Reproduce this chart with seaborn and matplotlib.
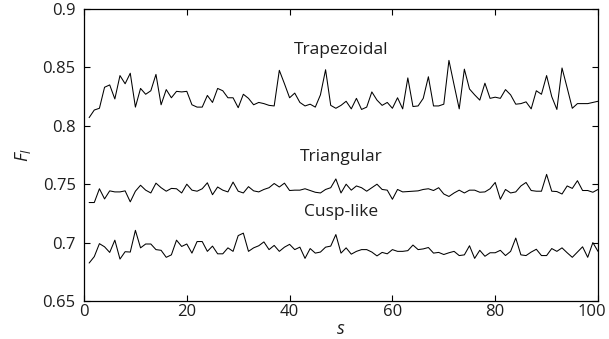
import numpy as np
import pandas as pd
import seaborn as sns
import matplotlib
matplotlib.use("Agg")
import matplotlib.pyplot as plt
from matplotlib.ticker import FuncFormatter
from matplotlib.transforms import ScaledTranslation

s = np.arange(1, 101)

trapezoidal = [
    0.807, 0.8135, 0.815, 0.833, 0.835, 0.823, 0.843, 0.836, 0.845, 0.816,
    0.832, 0.827, 0.830, 0.844, 0.818, 0.831, 0.824, 0.8295, 0.829, 0.8295,
    0.818, 0.816, 0.816, 0.826, 0.820, 0.832, 0.830, 0.824, 0.824, 0.8155,
    0.827, 0.8235, 0.818, 0.820, 0.819, 0.8175, 0.817, 0.8475, 0.836, 0.824,
    0.828, 0.820, 0.817, 0.8185, 0.816, 0.8265, 0.848, 0.8175, 0.815, 0.8175,
    0.821, 0.8145, 0.8235, 0.814, 0.816, 0.829, 0.822, 0.8175, 0.820, 0.815,
    0.824, 0.8145, 0.841, 0.8165, 0.817, 0.8235, 0.842, 0.817, 0.817, 0.8185,
    0.856, 0.835, 0.8145, 0.8485, 0.8315, 0.8265, 0.822, 0.8365, 0.8235, 0.8245,
    0.8235, 0.831, 0.8265, 0.8185, 0.819, 0.8205, 0.8145, 0.830, 0.827, 0.843,
    0.825, 0.814, 0.8495, 0.8325, 0.815, 0.819, 0.819, 0.819, 0.820, 0.821,
]

triangular = [
    0.7343, 0.7343, 0.7461, 0.7374, 0.7443, 0.7434, 0.7434, 0.7443, 0.7349, 0.7440,
    0.7491, 0.7449, 0.7425, 0.7509, 0.7470, 0.7440, 0.7464, 0.7461, 0.7425, 0.7500,
    0.7449, 0.7440, 0.7461, 0.7512, 0.7410, 0.7476, 0.7449, 0.7434, 0.7518, 0.7440,
    0.7425, 0.7479, 0.7443, 0.7434, 0.7455, 0.7470, 0.7506, 0.7476, 0.7509, 0.7446,
    0.7449, 0.7449, 0.7461, 0.7446, 0.7431, 0.7425, 0.7455, 0.7470, 0.7545, 0.7425,
    0.7500, 0.7449, 0.7485, 0.7470, 0.7440, 0.7470, 0.7500, 0.7455, 0.7449, 0.7371,
    0.7455, 0.7434, 0.7437, 0.7440, 0.7443, 0.7455, 0.7461, 0.7446, 0.7470, 0.7416,
    0.7395, 0.7425, 0.7449, 0.7425, 0.7449, 0.7449, 0.7431, 0.7434, 0.7461, 0.7515,
    0.7371, 0.7455, 0.7425, 0.7434, 0.7485, 0.7515, 0.7446, 0.7440, 0.7440, 0.7584,
    0.7440, 0.7437, 0.7416, 0.7485, 0.7464, 0.7530, 0.7446, 0.7446, 0.7431, 0.7455,
]

cusp_like = [
    0.6825, 0.6880, 0.6991, 0.6964, 0.6916, 0.7021, 0.6859, 0.6922, 0.6919, 0.7105,
    0.6955, 0.6988, 0.6988, 0.6940, 0.6934, 0.6874, 0.6895, 0.7021, 0.6967, 0.6988,
    0.6910, 0.7009, 0.7009, 0.6925, 0.6970, 0.6904, 0.6904, 0.6955, 0.6925, 0.7060,
    0.7081, 0.6925, 0.6955, 0.6973, 0.7006, 0.6940, 0.6976, 0.6925, 0.6961, 0.6985,
    0.6940, 0.6961, 0.6865, 0.6949, 0.6910, 0.6919, 0.6961, 0.6970, 0.7069, 0.6910,
    0.6955, 0.6901, 0.6925, 0.6940, 0.6940, 0.6919, 0.6886, 0.6916, 0.6904, 0.6940,
    0.6925, 0.6925, 0.6931, 0.6979, 0.6940, 0.6946, 0.6958, 0.6910, 0.6916, 0.6898,
    0.6913, 0.6925, 0.6889, 0.6895, 0.6973, 0.6865, 0.6934, 0.6883, 0.6913, 0.6913,
    0.6934, 0.6889, 0.6925, 0.7039, 0.6895, 0.6889, 0.6919, 0.6943, 0.6889, 0.6889,
    0.6949, 0.6925, 0.6955, 0.6913, 0.6874, 0.6919, 0.6964, 0.6874, 0.7000, 0.6925,
]

series_names = ["Trapezoidal", "Triangular", "Cusp-like"]
label_pos = [(50, 0.8653), (50, 0.7733), (50, 0.7262)]

x_ticks = [0, 20, 40, 60, 80, 100]
y_ticks = [0.65, 0.7, 0.75, 0.8, 0.85, 0.9]

sns.set_theme(style="white")
plt.rcParams["font.family"] = ["Open Sans", "DejaVu Sans"]
plt.rcParams["mathtext.fontset"] = "custom"
plt.rcParams["mathtext.it"] = "Open Sans:italic"
plt.rcParams["mathtext.rm"] = "Open Sans"

text_color = "#1e1e1e"

fig = plt.figure(figsize=(6.09, 3.39), dpi=100)
ax = fig.add_axes([84 / 609, 1 - 301 / 339, 514 / 609, 292 / 339])

df = pd.DataFrame({
    "s": np.concatenate([s, s, s]),
    "F": np.concatenate([trapezoidal, triangular, cusp_like]),
    "profile": np.repeat(series_names, len(s)),
})
for name in series_names:
    sns.lineplot(data=df[df["profile"] == name], x="s", y="F", ax=ax,
                 color="black", linewidth=0.75, legend=False)

for name, (tx, ty) in zip(series_names, label_pos):
    ax.text(tx, ty, name, ha="center", va="center", fontsize=12.5, color=text_color)

ax.set_xlim(0, 100)
ax.set_ylim(0.65, 0.9)
ax.set_xticks(x_ticks)
ax.set_yticks(y_ticks)
ax.yaxis.set_major_formatter(FuncFormatter(lambda v, p: f"{v:g}"))
ax.xaxis.set_major_formatter(FuncFormatter(lambda v, p: f"{v:g}"))
ax.tick_params(direction="in", length=4, width=0.8, colors="black",
               top=True, right=True, bottom=True, left=True,
               labelsize=12, labelcolor=text_color)
ax.tick_params(axis="y", pad=6)
ax.tick_params(axis="x", pad=2)
for sp in ax.spines.values():
    sp.set_color("black")
    sp.set_linewidth(0.9)

ax.set_xlabel("$s$", fontsize=13, color=text_color, labelpad=0)
ax.set_ylabel("$F_l$", fontsize=13, color=text_color, labelpad=7)

# keep the last x tick label inside the figure edge
fig.canvas.draw()
last = ax.get_xticklabels()[-1]
last.set_transform(last.get_transform() + ScaledTranslation(-6 / 100, 0, fig.dpi_scale_trans))

fig.savefig("out.png", dpi=100)
